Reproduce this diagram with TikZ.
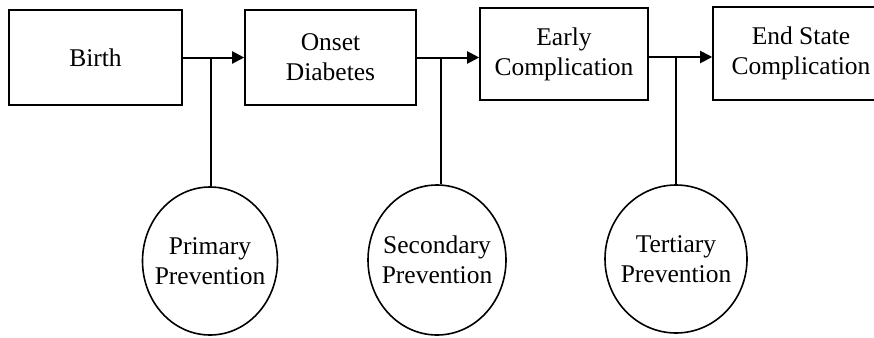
\documentclass[tikz,border=0pt]{standalone}
\usepackage{fontspec}
\setmainfont{Liberation Serif}
\usetikzlibrary{shapes.geometric,arrows.meta}
\begin{document}
\begin{tikzpicture}[x=1pt,y=-1pt,
  stagebox/.style={draw,line width=1.6pt,inner sep=0pt,align=center,
    font=\fontsize{25.5}{30}\selectfont},
  prevshape/.style={draw,ellipse,line width=1.6pt,inner sep=0pt},
  prevtext/.style={align=center,inner sep=0pt,font=\fontsize{25.5}{30}\selectfont},
  conn/.style={line width=2pt},
  arr/.style={line width=2pt,-{Triangle[length=12pt,width=12pt]}}]
\useasboundingbox (0,0) rectangle (874,337);
\node[stagebox,minimum width=173pt,minimum height=95pt] (birth) at (95.5,57.5) {Birth};
\node[stagebox,minimum width=171pt,minimum height=95pt] (onset) at (330.5,57.5) {Onset\\Diabetes};
\node[stagebox,minimum width=168pt,minimum height=92pt] (early) at (564,54) {Early\\Complication};
\node[stagebox,minimum width=176pt,minimum height=93pt] (end) at (801,53.5) {End State\\Complication};
\node[prevshape,minimum width=135pt,minimum height=148pt] (c1) at (210,261) {};
\node[prevtext] (t1) at (c1.center) {Primary\\Prevention};
\node[prevshape,minimum width=138pt,minimum height=150pt] (c2) at (437,260) {};
\node[prevtext] (t2) at (c2.center) {Secondary\\Prevention};
\node[prevshape,minimum width=142pt,minimum height=148pt] (c3) at (676,259) {};
\node[prevtext] (t3) at (c3.center) {Tertiary\\Prevention};
\coordinate (j1) at (211,57.5);
\coordinate (j2) at (441,57.5);
\coordinate (j3) at (676,57);
\draw[arr] (birth.east) -- (birth.east -| onset.west);
\draw[arr] (onset.east) -- (onset.east -| early.west);
\draw[arr] (j3 -| early.east) -- (j3 -| end.west);
\draw[conn] (j1) -- (j1 |- c1.north);
\draw[conn] (j2) -- (j2 |- c2.north);
\draw[conn] (j3) -- (j3 |- c3.north);
\end{tikzpicture}
\end{document}
